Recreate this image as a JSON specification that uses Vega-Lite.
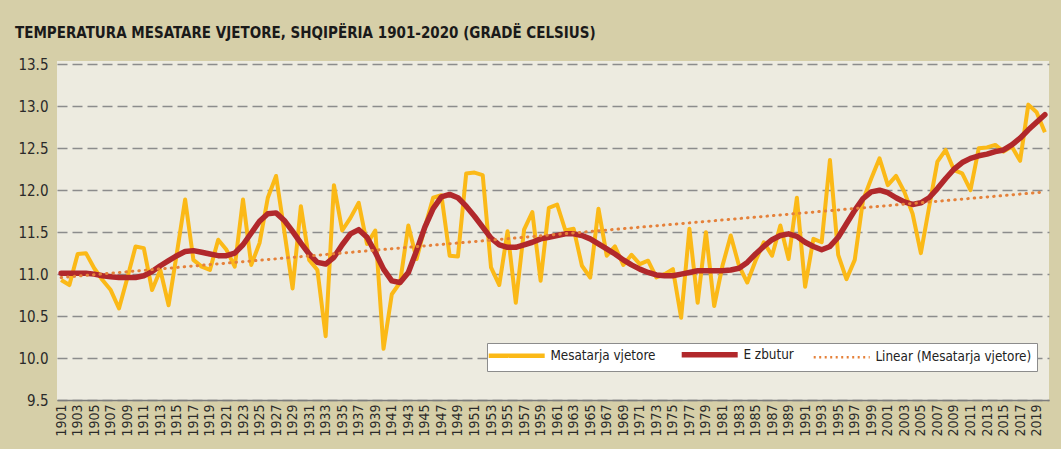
{
  "$schema": "https://vega.github.io/schema/vega-lite/v6.json",
  "width": 992,
  "height": 339,
  "autosize": {"type": "none"},
  "padding": {"left": 57, "top": 61, "right": 12, "bottom": 49},
  "background": "#d6cfa8",
  "config": {
    "view": {"fill": "#edebe0", "stroke": null},
    "font": "DejaVu Sans Condensed, sans-serif"
  },
  "title": {
    "text": "TEMPERATURA MESATARE VJETORE, SHQIPËRIA 1901-2020 (GRADË CELSIUS)",
    "anchor": "start",
    "frame": "group",
    "dx": -42,
    "offset": 4,
    "baseline": "alphabetic",
    "font": "DejaVu Sans Condensed, sans-serif",
    "fontSize": 15,
    "fontWeight": "bold",
    "color": "#1a1a1a"
  },
  "data": {"values": [
    {"year": 1901, "avg": 10.93, "smooth": 11.01},
    {"year": 1902, "avg": 10.87, "smooth": 11.01},
    {"year": 1903, "avg": 11.24, "smooth": 11.01},
    {"year": 1904, "avg": 11.25, "smooth": 11.01},
    {"year": 1905, "avg": 11.07, "smooth": 11.00},
    {"year": 1906, "avg": 10.93, "smooth": 10.98},
    {"year": 1907, "avg": 10.81, "smooth": 10.97},
    {"year": 1908, "avg": 10.59, "smooth": 10.96},
    {"year": 1909, "avg": 10.95, "smooth": 10.96},
    {"year": 1910, "avg": 11.33, "smooth": 10.96},
    {"year": 1911, "avg": 11.31, "smooth": 10.98},
    {"year": 1912, "avg": 10.81, "smooth": 11.03},
    {"year": 1913, "avg": 11.05, "smooth": 11.10},
    {"year": 1914, "avg": 10.63, "smooth": 11.16},
    {"year": 1915, "avg": 11.25, "smooth": 11.22},
    {"year": 1916, "avg": 11.89, "smooth": 11.27},
    {"year": 1917, "avg": 11.17, "smooth": 11.28},
    {"year": 1918, "avg": 11.09, "smooth": 11.26},
    {"year": 1919, "avg": 11.05, "smooth": 11.24},
    {"year": 1920, "avg": 11.41, "smooth": 11.22},
    {"year": 1921, "avg": 11.29, "smooth": 11.22},
    {"year": 1922, "avg": 11.09, "smooth": 11.25},
    {"year": 1923, "avg": 11.89, "smooth": 11.35},
    {"year": 1924, "avg": 11.11, "smooth": 11.49},
    {"year": 1925, "avg": 11.37, "smooth": 11.63},
    {"year": 1926, "avg": 11.91, "smooth": 11.72},
    {"year": 1927, "avg": 12.17, "smooth": 11.73},
    {"year": 1928, "avg": 11.51, "smooth": 11.64},
    {"year": 1929, "avg": 10.83, "smooth": 11.51},
    {"year": 1930, "avg": 11.81, "smooth": 11.37},
    {"year": 1931, "avg": 11.17, "smooth": 11.24},
    {"year": 1932, "avg": 11.05, "smooth": 11.14},
    {"year": 1933, "avg": 10.26, "smooth": 11.12},
    {"year": 1934, "avg": 12.06, "smooth": 11.20},
    {"year": 1935, "avg": 11.52, "smooth": 11.35},
    {"year": 1936, "avg": 11.67, "smooth": 11.48},
    {"year": 1937, "avg": 11.85, "smooth": 11.53},
    {"year": 1938, "avg": 11.36, "smooth": 11.44},
    {"year": 1939, "avg": 11.52, "smooth": 11.26},
    {"year": 1940, "avg": 10.11, "smooth": 11.06},
    {"year": 1941, "avg": 10.76, "smooth": 10.92},
    {"year": 1942, "avg": 10.90, "smooth": 10.90},
    {"year": 1943, "avg": 11.58, "smooth": 11.02},
    {"year": 1944, "avg": 11.18, "smooth": 11.28},
    {"year": 1945, "avg": 11.56, "smooth": 11.56},
    {"year": 1946, "avg": 11.91, "smooth": 11.78},
    {"year": 1947, "avg": 11.94, "smooth": 11.92},
    {"year": 1948, "avg": 11.22, "smooth": 11.95},
    {"year": 1949, "avg": 11.21, "smooth": 11.91},
    {"year": 1950, "avg": 12.20, "smooth": 11.81},
    {"year": 1951, "avg": 12.21, "smooth": 11.69},
    {"year": 1952, "avg": 12.18, "smooth": 11.56},
    {"year": 1953, "avg": 11.08, "smooth": 11.43},
    {"year": 1954, "avg": 10.87, "smooth": 11.35},
    {"year": 1955, "avg": 11.51, "smooth": 11.32},
    {"year": 1956, "avg": 10.66, "smooth": 11.32},
    {"year": 1957, "avg": 11.53, "smooth": 11.35},
    {"year": 1958, "avg": 11.74, "smooth": 11.38},
    {"year": 1959, "avg": 10.92, "smooth": 11.42},
    {"year": 1960, "avg": 11.79, "smooth": 11.44},
    {"year": 1961, "avg": 11.83, "smooth": 11.46},
    {"year": 1962, "avg": 11.52, "smooth": 11.48},
    {"year": 1963, "avg": 11.54, "smooth": 11.48},
    {"year": 1964, "avg": 11.10, "smooth": 11.46},
    {"year": 1965, "avg": 10.96, "smooth": 11.42},
    {"year": 1966, "avg": 11.78, "smooth": 11.36},
    {"year": 1967, "avg": 11.22, "smooth": 11.30},
    {"year": 1968, "avg": 11.33, "smooth": 11.24},
    {"year": 1969, "avg": 11.11, "smooth": 11.17},
    {"year": 1970, "avg": 11.23, "smooth": 11.11},
    {"year": 1971, "avg": 11.12, "smooth": 11.06},
    {"year": 1972, "avg": 11.16, "smooth": 11.02},
    {"year": 1973, "avg": 10.96, "smooth": 10.99},
    {"year": 1974, "avg": 11.00, "smooth": 10.98},
    {"year": 1975, "avg": 11.06, "smooth": 10.98},
    {"year": 1976, "avg": 10.48, "smooth": 11.00},
    {"year": 1977, "avg": 11.54, "smooth": 11.02},
    {"year": 1978, "avg": 10.66, "smooth": 11.04},
    {"year": 1979, "avg": 11.50, "smooth": 11.04},
    {"year": 1980, "avg": 10.62, "smooth": 11.04},
    {"year": 1981, "avg": 11.10, "smooth": 11.04},
    {"year": 1982, "avg": 11.46, "smooth": 11.05},
    {"year": 1983, "avg": 11.10, "smooth": 11.07},
    {"year": 1984, "avg": 10.90, "smooth": 11.14},
    {"year": 1985, "avg": 11.16, "smooth": 11.24},
    {"year": 1986, "avg": 11.38, "smooth": 11.33},
    {"year": 1987, "avg": 11.22, "smooth": 11.41},
    {"year": 1988, "avg": 11.58, "smooth": 11.46},
    {"year": 1989, "avg": 11.18, "smooth": 11.48},
    {"year": 1990, "avg": 11.91, "smooth": 11.45},
    {"year": 1991, "avg": 10.85, "smooth": 11.38},
    {"year": 1992, "avg": 11.42, "smooth": 11.33},
    {"year": 1993, "avg": 11.38, "smooth": 11.29},
    {"year": 1994, "avg": 12.36, "smooth": 11.33},
    {"year": 1995, "avg": 11.23, "smooth": 11.44},
    {"year": 1996, "avg": 10.94, "smooth": 11.60},
    {"year": 1997, "avg": 11.17, "smooth": 11.76},
    {"year": 1998, "avg": 11.88, "smooth": 11.90},
    {"year": 1999, "avg": 12.14, "smooth": 11.98},
    {"year": 2000, "avg": 12.38, "smooth": 12.00},
    {"year": 2001, "avg": 12.06, "smooth": 11.97},
    {"year": 2002, "avg": 12.17, "smooth": 11.91},
    {"year": 2003, "avg": 11.98, "smooth": 11.86},
    {"year": 2004, "avg": 11.72, "smooth": 11.83},
    {"year": 2005, "avg": 11.25, "smooth": 11.85},
    {"year": 2006, "avg": 11.80, "smooth": 11.91},
    {"year": 2007, "avg": 12.34, "smooth": 12.02},
    {"year": 2008, "avg": 12.48, "smooth": 12.14},
    {"year": 2009, "avg": 12.24, "smooth": 12.25},
    {"year": 2010, "avg": 12.20, "smooth": 12.33},
    {"year": 2011, "avg": 12.00, "smooth": 12.38},
    {"year": 2012, "avg": 12.50, "smooth": 12.41},
    {"year": 2013, "avg": 12.51, "smooth": 12.43},
    {"year": 2014, "avg": 12.54, "smooth": 12.46},
    {"year": 2015, "avg": 12.46, "smooth": 12.48},
    {"year": 2016, "avg": 12.52, "smooth": 12.54},
    {"year": 2017, "avg": 12.35, "smooth": 12.62},
    {"year": 2018, "avg": 13.02, "smooth": 12.72},
    {"year": 2019, "avg": 12.93, "smooth": 12.81},
    {"year": 2020, "avg": 12.69, "smooth": 12.90}
  ]},
  "encoding": {
    "x": {
      "field": "year",
      "type": "quantitative",
      "scale": {"domain": [1900.5, 2020.5], "nice": false, "zero": false},
      "axis": {
        "title": null,
        "values": [1901,1903,1905,1907,1909,1911,1913,1915,1917,1919,1921,1923,1925,1927,1929,1931,1933,1935,1937,1939,1941,1943,1945,1947,1949,1951,1953,1955,1957,1959,1961,1963,1965,1967,1969,1971,1973,1975,1977,1979,1981,1983,1985,1987,1989,1991,1993,1995,1997,1999,2001,2003,2005,2007,2009,2011,2013,2015,2017,2019],
        "format": "d",
        "labelAngle": -90,
        "labelAlign": "right",
        "labelBaseline": "middle",
        "labelFontSize": 14,
        "labelColor": "#2a2a2a",
        "labelPadding": 4,
        "labelOverlap": false,
        "labelFlush": false,
        "ticks": false,
        "grid": false,
        "domainColor": "#7d7d7d",
        "domainWidth": 1.5
      }
    }
  },
  "layer": [
    {
      "mark": {"type": "line", "strokeWidth": 4, "strokeJoin": "round"},
      "encoding": {
        "y": {
          "field": "avg",
          "type": "quantitative",
          "scale": {"domain": [9.5, 13.54], "nice": false, "zero": false},
          "axis": {
            "title": null,
            "values": [9.5, 10, 10.5, 11, 11.5, 12, 12.5, 13, 13.5],
            "format": ".1f",
            "labelFontSize": 15,
            "labelColor": "#2a2a2a",
            "labelPadding": 9,
            "ticks": false,
            "domain": false,
            "gridColor": "#8c8c8c",
            "gridWidth": 1.5,
            "gridDash": [10, 5]
          }
        },
        "color": {
          "datum": "Mesatarja vjetore",
          "type": "nominal",
          "scale": {
            "domain": ["Mesatarja vjetore", "E zbutur", "Linear (Mesatarja vjetore)"],
            "range": ["#fbb917", "#b1282b", "#e5813a"]
          },
          "legend": {
            "title": null,
            "orient": "none",
            "legendX": 430,
            "legendY": 282,
            "direction": "horizontal",
            "columns": 3,
            "fillColor": "#ffffff",
            "strokeColor": "#8c8c8c",
            "padding": 5,
            "symbolType": "M-1,0H4.6",
            "symbolSize": 400,
            "symbolStrokeWidth": 4.5,
            "labelOffset": 45,
            "labelFontSize": 13.4,
            "labelColor": "#222222",
            "labelLimit": 300,
            "columnPadding": 14,
            "encode": {
              "symbols": {
                "update": {
                  "strokeDash": {"signal": "datum.value === 'Linear (Mesatarja vjetore)' ? [2, 3.5] : [1, 0]"},
                  "strokeWidth": {"signal": "datum.value === 'E zbutur' ? 5.5 : (datum.value === 'Mesatarja vjetore' ? 4.5 : 2.5)"}
                }
              }
            }
          }
        }
      }
    },
    {
      "mark": {"type": "line", "strokeWidth": 5.5, "strokeJoin": "round", "strokeCap": "round"},
      "encoding": {
        "y": {"field": "smooth", "type": "quantitative", "axis": {"title": null}},
        "color": {"datum": "E zbutur", "type": "nominal"}
      }
    },
    {
      "transform": [{"regression": "avg", "on": "year"}],
      "mark": {"type": "line", "strokeWidth": 3, "strokeDash": [0.5, 6], "strokeCap": "round"},
      "encoding": {
        "y": {"field": "avg", "type": "quantitative", "axis": {"title": null}},
        "color": {"datum": "Linear (Mesatarja vjetore)", "type": "nominal"}
      }
    }
  ]
}
